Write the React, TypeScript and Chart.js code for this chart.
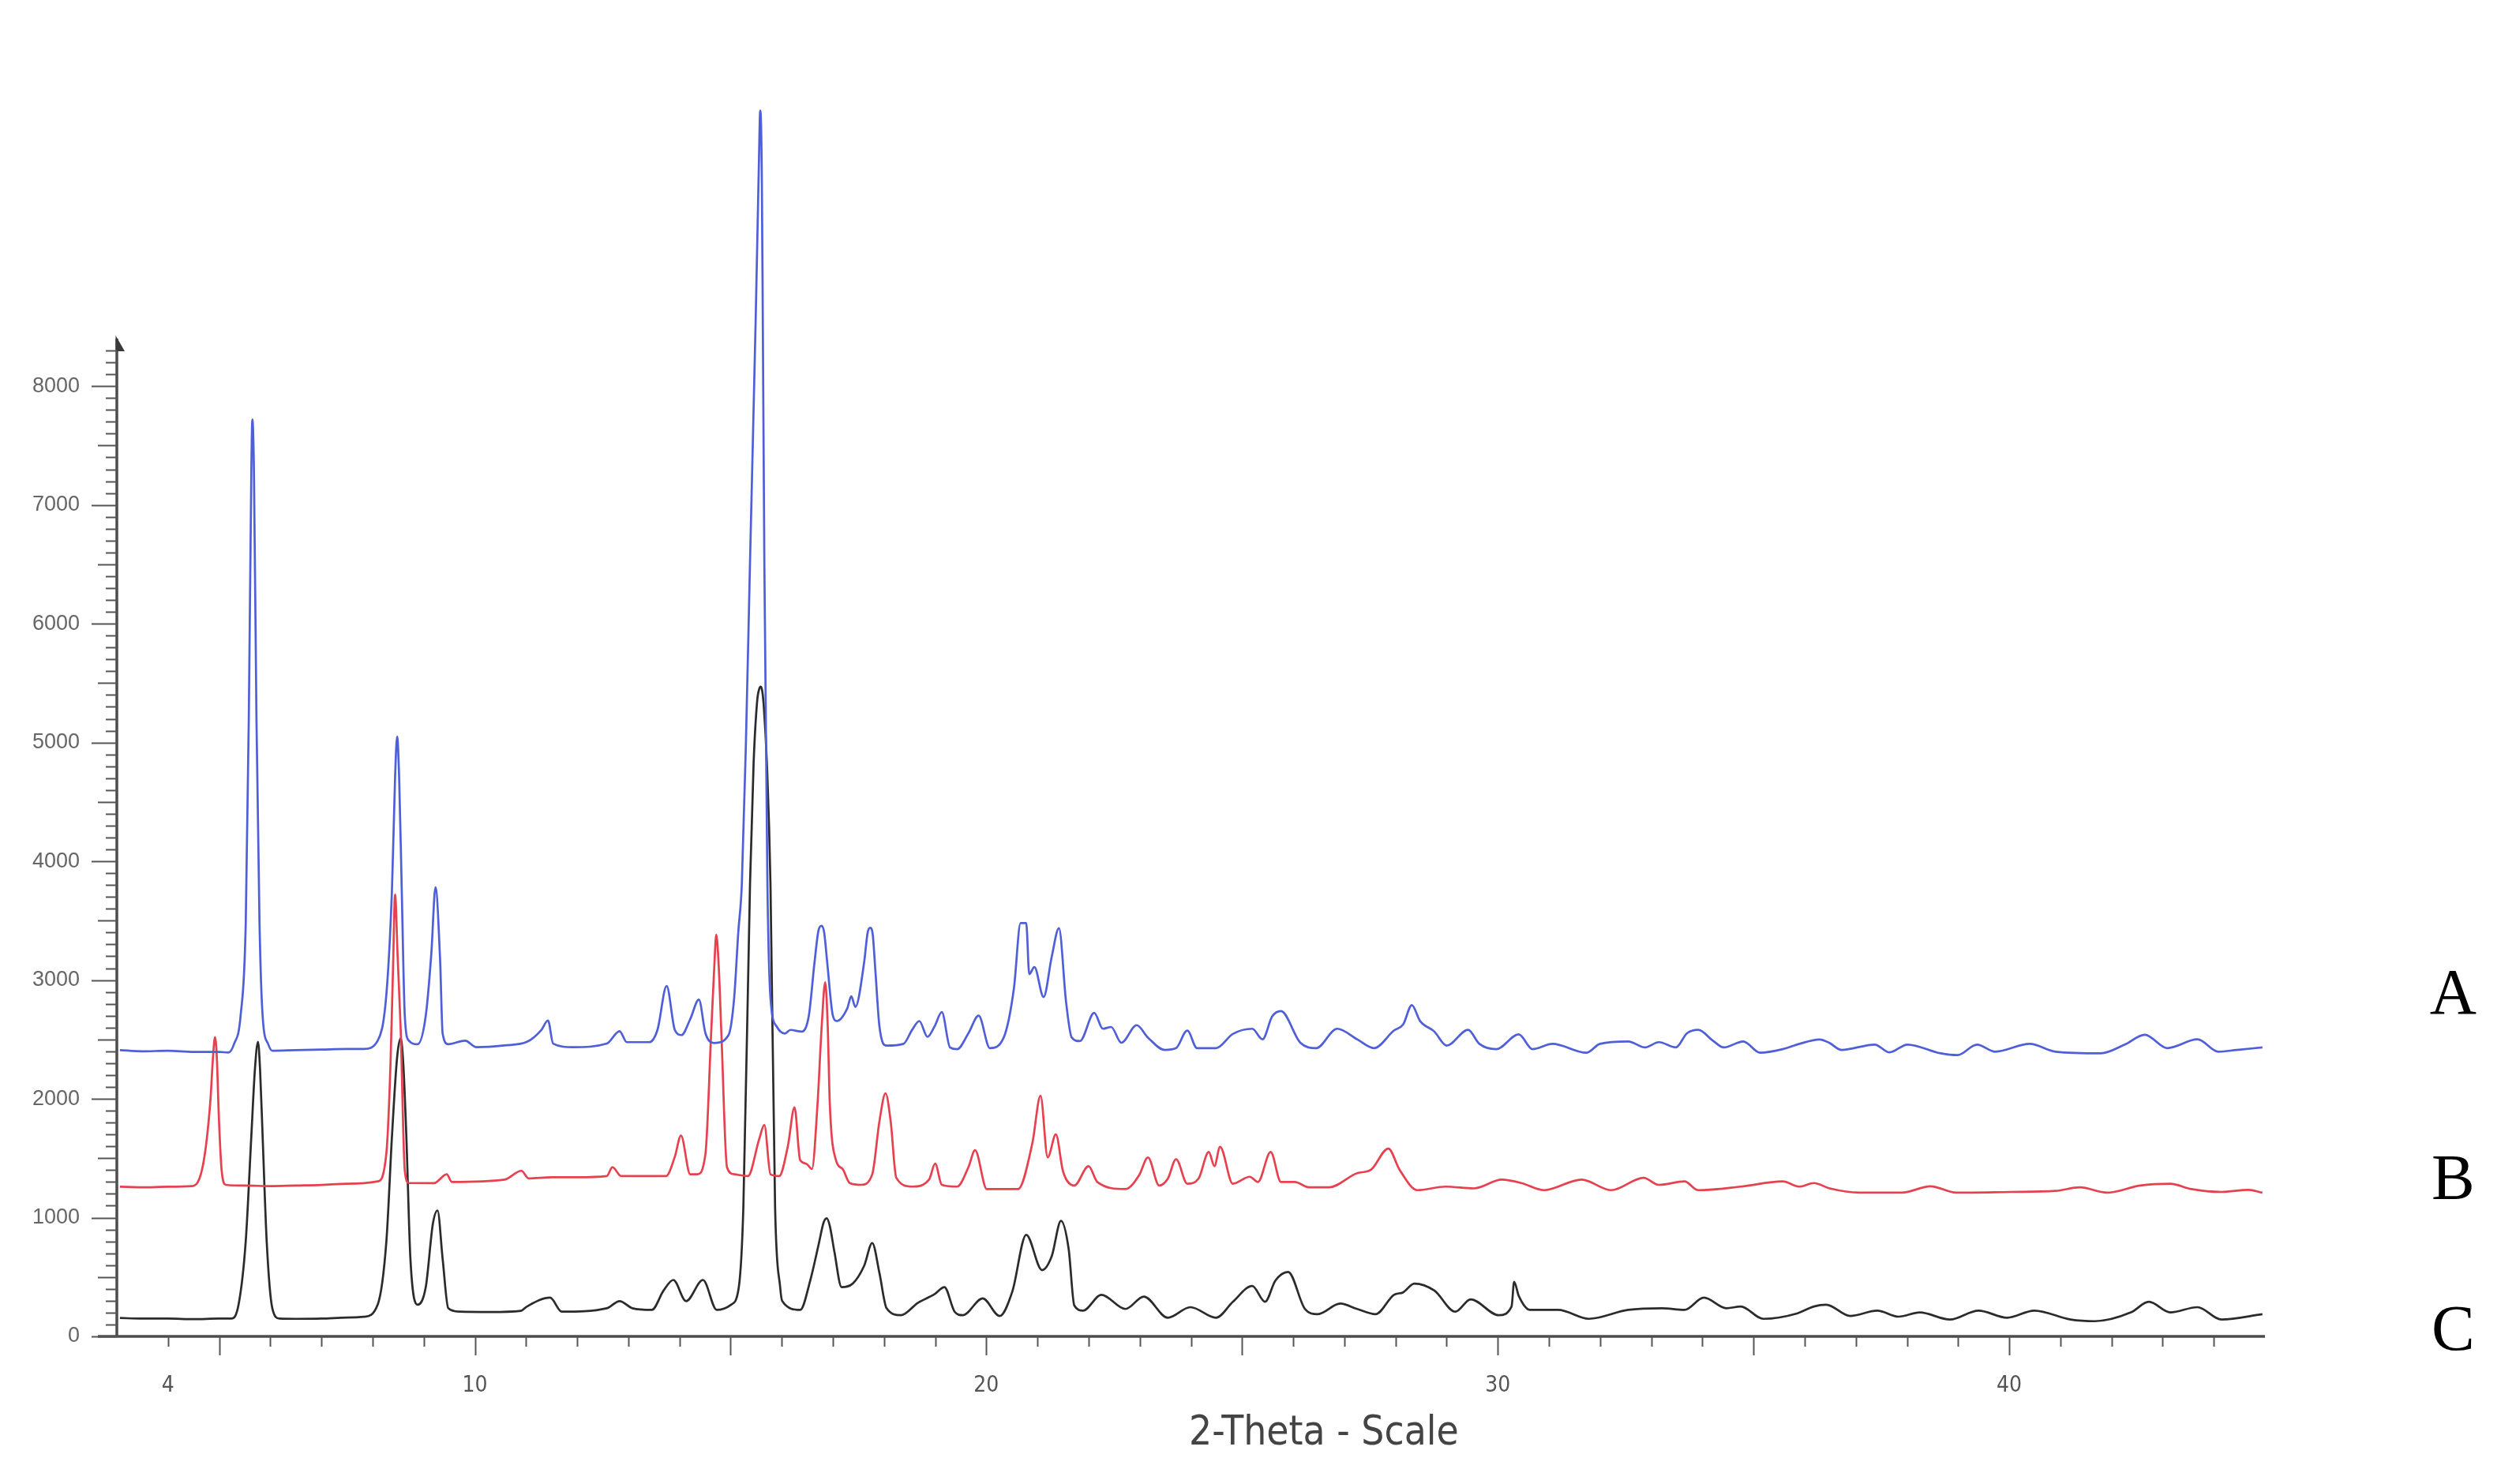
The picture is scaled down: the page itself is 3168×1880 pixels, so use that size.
import React, { useEffect, useRef } from 'react';
import { Chart, registerables } from 'chart.js';

Chart.register(...registerables);

// ---- axis settings ----
const X_MIN = 3;
const X_MAX = 45;
const Y_MIN = 0;
const Y_MAX = 10500;
const Y_AXIS_TOP = 8400;
const X_TICK_LABELS = [4, 10, 20, 30, 40];
const Y_TICK_LABELS = [0, 1000, 2000, 3000, 4000, 5000, 6000, 7000, 8000];
const X_AXIS_TITLE = '2-Theta - Scale';
const X_TITLE_AT = 26.6;

// ---- series labels ----
const TRACE_NAMES = ['A', 'B', 'C'];
const TRACE_NAME_VALUES = [2860, 1300, 30];
const TRACE_NAME_AT = 48.68;
const TRACE_COLORS = ['#4f5fd8', '#e5414f', '#2b2b2b'];

// ---- data: [2-theta, intensity] ----
const TRACE_A: [number, number][] = [
  [3.06, 2410], [3.5, 2400], [4.0, 2405], [4.5, 2395], [5.0, 2395], [5.18, 2390], [5.29, 2460], [5.42, 2700],
  [5.52, 3470], [5.58, 5200], [5.63, 7300], [5.65, 7720], [5.68, 7300], [5.73, 5200], [5.79, 3470], [5.85, 2700],
  [5.96, 2460], [6.04, 2405], [6.5, 2410], [7.0, 2415], [7.5, 2420], [7.83, 2420], [8.1, 2490], [8.27, 2880],
  [8.38, 3770], [8.44, 4700], [8.48, 5050], [8.52, 4700], [8.57, 3770], [8.63, 2700], [8.71, 2490], [8.88, 2460],
  [9.04, 2700], [9.15, 3230], [9.23, 3780], [9.32, 3175], [9.37, 2550], [9.48, 2460], [9.81, 2490], [10.03, 2435],
  [10.58, 2450], [11.02, 2480], [11.3, 2580], [11.43, 2660], [11.53, 2465], [11.92, 2435], [12.58, 2465], [12.83, 2570],
  [12.97, 2477], [13.41, 2477], [13.57, 2580], [13.75, 2950], [13.91, 2580], [14.04, 2537], [14.21, 2670], [14.38, 2835],
  [14.51, 2550], [14.68, 2470], [14.96, 2537], [15.07, 2850], [15.15, 3400], [15.22, 3810], [15.3, 5000], [15.38, 6520],
  [15.49, 8550], [15.55, 9800], [15.58, 10320], [15.61, 9800], [15.63, 8550], [15.66, 6520], [15.72, 3810], [15.78, 2850],
  [15.9, 2610], [16.06, 2550], [16.17, 2580], [16.39, 2566], [16.53, 2700], [16.64, 3145], [16.72, 3420], [16.78, 3457],
  [16.83, 3400], [16.89, 3145], [17.0, 2700], [17.08, 2655], [17.28, 2760], [17.36, 2863], [17.44, 2774], [17.61, 3145],
  [17.68, 3400], [17.73, 3440], [17.78, 3380], [17.83, 3086], [17.91, 2611], [18.05, 2448], [18.38, 2463], [18.55, 2581],
  [18.69, 2655], [18.85, 2522], [18.99, 2611], [19.13, 2730], [19.29, 2433], [19.43, 2418], [19.65, 2552], [19.85, 2700],
  [20.07, 2427], [20.34, 2516], [20.54, 2931], [20.67, 3480], [20.78, 3480], [20.84, 3050], [20.94, 3109], [21.12, 2857],
  [21.28, 3198], [21.42, 3436], [21.56, 2813], [21.67, 2516], [21.83, 2486], [22.11, 2724], [22.28, 2590], [22.44, 2605],
  [22.64, 2472], [22.94, 2620], [23.16, 2516], [23.49, 2412], [23.71, 2427], [23.93, 2575], [24.12, 2427], [24.49, 2427],
  [24.82, 2546], [25.2, 2590], [25.4, 2501], [25.59, 2694], [25.76, 2739], [26.14, 2472], [26.45, 2427], [26.86, 2590],
  [27.25, 2501], [27.58, 2427], [27.97, 2575], [28.15, 2626], [28.32, 2789], [28.48, 2656], [28.76, 2566], [29.0, 2448],
  [29.42, 2581], [29.64, 2463], [29.97, 2418], [30.41, 2543], [30.68, 2418], [31.07, 2463], [31.73, 2388], [32.0, 2463],
  [32.55, 2483], [32.88, 2433], [33.15, 2477], [33.48, 2433], [33.7, 2552], [33.92, 2581], [34.2, 2492], [34.42, 2433],
  [34.8, 2483], [35.13, 2388], [35.57, 2418], [35.9, 2463], [36.29, 2500], [36.48, 2472], [36.72, 2412], [37.37, 2457],
  [37.66, 2391], [38.01, 2457], [38.66, 2383], [38.99, 2368], [39.37, 2457], [39.73, 2397], [40.4, 2463], [40.91, 2397],
  [41.79, 2383], [42.26, 2457], [42.65, 2540], [43.09, 2427], [43.68, 2501], [44.09, 2397], [44.45, 2412], [44.95, 2433],
];

const TRACE_B: [number, number][] = [
  [3.06, 1260], [3.5, 1255], [4.0, 1260], [4.47, 1265], [4.69, 1455], [4.83, 1990], [4.88, 2350], [4.92, 2520],
  [4.96, 2300], [4.99, 1900], [5.05, 1395], [5.13, 1276], [5.5, 1270], [6.0, 1265], [6.5, 1270], [7.0, 1275],
  [7.5, 1285], [8.1, 1305], [8.27, 1543], [8.35, 2284], [8.4, 3100], [8.44, 3720], [8.49, 3200], [8.55, 2581],
  [8.63, 1395], [8.71, 1291], [9.2, 1290], [9.45, 1365], [9.55, 1300], [10.58, 1320], [10.91, 1394], [11.05, 1330],
  [11.51, 1340], [12.0, 1340], [12.58, 1350], [12.69, 1424], [12.86, 1350], [13.74, 1350], [13.91, 1513], [14.03, 1691],
  [14.21, 1365], [14.35, 1365], [14.51, 1543], [14.62, 2552], [14.68, 3100], [14.72, 3382], [14.77, 3100], [14.82, 2552],
  [14.93, 1424], [15.07, 1365], [15.34, 1350], [15.56, 1662], [15.66, 1780], [15.78, 1365], [15.95, 1350], [16.12, 1602],
  [16.25, 1929], [16.36, 1484], [16.48, 1454], [16.59, 1409], [16.7, 1958], [16.78, 2600], [16.85, 2982], [16.9, 2600],
  [16.94, 1958], [17.06, 1484], [17.19, 1409], [17.33, 1291], [17.55, 1276], [17.77, 1365], [17.91, 1810], [18.03, 2047],
  [18.13, 1810], [18.24, 1335], [18.55, 1261], [18.88, 1320], [19.0, 1454], [19.13, 1276], [19.43, 1261], [19.65, 1424],
  [19.78, 1567], [20.01, 1240], [20.62, 1240], [20.9, 1626], [21.06, 2026], [21.2, 1507], [21.36, 1700], [21.5, 1389],
  [21.72, 1270], [22.0, 1433], [22.17, 1300], [22.72, 1240], [22.99, 1359], [23.16, 1507], [23.38, 1270], [23.55, 1329],
  [23.71, 1492], [23.93, 1285], [24.15, 1329], [24.35, 1552], [24.46, 1433], [24.57, 1596], [24.82, 1285], [25.15, 1344],
  [25.31, 1300], [25.56, 1552], [25.76, 1300], [26.03, 1300], [26.31, 1255], [26.7, 1255], [27.25, 1374], [27.52, 1403],
  [27.86, 1581], [28.08, 1403], [28.43, 1231], [28.98, 1261], [29.53, 1246], [30.08, 1320], [30.46, 1291], [30.9, 1231],
  [31.64, 1320], [32.22, 1231], [32.85, 1335], [33.15, 1276], [33.65, 1305], [33.92, 1231], [34.75, 1261], [35.57, 1305],
  [35.9, 1261], [36.18, 1291], [36.49, 1246], [37.07, 1210], [37.9, 1210], [38.46, 1264], [38.96, 1210], [40.02, 1216],
  [40.91, 1225], [41.38, 1255], [41.91, 1210], [42.56, 1270], [43.15, 1285], [43.56, 1240], [44.15, 1216], [44.68, 1234],
  [44.95, 1210],
];

const TRACE_C: [number, number][] = [
  [3.06, 155], [3.5, 150], [4.0, 150], [4.5, 145], [5.0, 150], [5.24, 150], [5.38, 267], [5.52, 800],
  [5.63, 1690], [5.7, 2250], [5.76, 2480], [5.8, 2250], [5.85, 1690], [5.93, 800], [6.04, 237], [6.18, 150],
  [6.5, 148], [7.0, 150], [7.5, 158], [7.83, 165], [8.1, 267], [8.27, 800], [8.38, 1690], [8.48, 2350],
  [8.55, 2510], [8.6, 2300], [8.66, 1690], [8.74, 653], [8.88, 267], [9.04, 415], [9.18, 950], [9.27, 1060],
  [9.37, 653], [9.48, 237], [9.7, 208], [10.3, 205], [10.9, 215], [11.02, 252], [11.47, 326], [11.7, 208],
  [12.58, 237], [12.83, 297], [13.08, 237], [13.46, 223], [13.69, 386], [13.88, 475], [14.13, 297], [14.46, 475],
  [14.73, 223], [15.01, 267], [15.16, 412], [15.25, 1090], [15.38, 3807], [15.45, 4824], [15.52, 5350], [15.56, 5450],
  [15.59, 5470], [15.62, 5430], [15.65, 5300], [15.71, 4824], [15.78, 3807], [15.87, 1090], [15.97, 412], [16.01, 297],
  [16.36, 223], [16.56, 475], [16.72, 771], [16.82, 960], [16.88, 994], [16.94, 930], [17.03, 712], [17.17, 415],
  [17.39, 445], [17.61, 593], [17.77, 786], [17.91, 534], [18.05, 237], [18.33, 178], [18.66, 282], [18.99, 356],
  [19.18, 415], [19.38, 208], [19.54, 178], [19.93, 320], [20.26, 172], [20.51, 380], [20.78, 855], [21.09, 558],
  [21.28, 676], [21.46, 973], [21.61, 736], [21.72, 261], [21.89, 217], [22.25, 350], [22.72, 231], [23.08, 335],
  [23.55, 157], [23.99, 246], [24.49, 157], [24.82, 291], [25.2, 424], [25.45, 291], [25.65, 469], [25.9, 543],
  [26.23, 231], [26.48, 187], [26.92, 276], [27.25, 231], [27.61, 187], [27.97, 350], [28.15, 371], [28.37, 445],
  [28.76, 386], [29.17, 208], [29.47, 312], [30.02, 178], [30.27, 252], [30.32, 460], [30.41, 341], [30.63, 223],
  [31.18, 223], [31.78, 148], [32.55, 223], [33.21, 237], [33.65, 223], [34.03, 326], [34.47, 237], [34.75, 252],
  [35.19, 148], [35.85, 193], [36.18, 252], [36.42, 267], [36.89, 172], [37.42, 217], [37.84, 166], [38.25, 202],
  [38.84, 142], [39.4, 217], [39.96, 157], [40.49, 217], [41.2, 142], [41.67, 128], [42.38, 202], [42.73, 291],
  [43.15, 202], [43.68, 246], [44.15, 142], [44.95, 187],
];

const TRACES = [TRACE_A, TRACE_B, TRACE_C];

const NARROW = "'Liberation Sans Narrow', 'DejaVu Sans Condensed', 'Liberation Sans', sans-serif";

const axesPlugin = {
  id: 'xrdAxes',
  beforeDatasetsDraw(chart: any) {
    const { ctx } = chart;
    const xs = chart.scales.x;
    const ys = chart.scales.y;
    const x0 = xs.getPixelForValue(X_MIN);
    const xEnd = xs.getPixelForValue(X_MAX);
    const y0 = ys.getPixelForValue(0);
    const yTop = ys.getPixelForValue(Y_AXIS_TOP);
    ctx.save();
    ctx.strokeStyle = '#4c4c4c';
    ctx.lineWidth = 3.5;
    ctx.beginPath();
    ctx.moveTo(x0 - 24, y0);
    ctx.lineTo(xEnd, y0);
    ctx.stroke();
    ctx.beginPath();
    ctx.moveTo(x0, y0);
    ctx.lineTo(x0, yTop);
    ctx.stroke();
    ctx.fillStyle = '#3a3a3a';
    ctx.beginPath();
    ctx.moveTo(x0 - 1.5, yTop - 4);
    ctx.lineTo(x0 + 10, yTop + 16);
    ctx.lineTo(x0 - 1.5, yTop + 16);
    ctx.closePath();
    ctx.fill();
    ctx.strokeStyle = '#555';
    ctx.lineWidth = 2;
    for (let k = 0; k <= 83; k++) {
      const v = k * 100;
      const len = k % 10 === 0 ? 32 : k % 5 === 0 ? 24 : 14;
      const py = Math.round(ys.getPixelForValue(v)) + 0.5;
      ctx.beginPath();
      ctx.moveTo(x0 - len, py);
      ctx.lineTo(x0, py);
      ctx.stroke();
    }
    for (let t = 4; t <= 44; t++) {
      const len = t % 5 === 0 ? 24 : 13;
      const px = Math.round(xs.getPixelForValue(t)) + 0.5;
      ctx.beginPath();
      ctx.moveTo(px, y0);
      ctx.lineTo(px, y0 + len);
      ctx.stroke();
    }
    ctx.restore();
  },
  afterDraw(chart: any) {
    const { ctx } = chart;
    const xs = chart.scales.x;
    const ys = chart.scales.y;
    ctx.save();
    ctx.fillStyle = '#444';
    ctx.font = `51px ${NARROW}`;
    ctx.textAlign = 'center';
    ctx.textBaseline = 'middle';
    ctx.fillText(X_AXIS_TITLE, xs.getPixelForValue(X_TITLE_AT), ys.getPixelForValue(0) + 124);
    ctx.fillStyle = '#000';
    ctx.font = "82px 'Liberation Serif', 'DejaVu Serif', serif";
    TRACE_NAMES.forEach((n, i) => {
      ctx.fillText(n, xs.getPixelForValue(TRACE_NAME_AT), ys.getPixelForValue(TRACE_NAME_VALUES[i]));
    });
    ctx.restore();
  },
};

export default function App() {
  const canvasRef = useRef<HTMLCanvasElement | null>(null);

  useEffect(() => {
    const canvas = canvasRef.current;
    if (!canvas) return;
    const chart = new Chart(canvas, {
      type: 'line',
      data: {
        datasets: TRACES.map((tr, i) => ({
          label: TRACE_NAMES[i],
          data: tr.map(([x, y]) => ({ x, y })),
          borderColor: TRACE_COLORS[i],
          borderWidth: 2.7,
          pointRadius: 0,
          cubicInterpolationMode: 'monotone' as const,
          fill: false,
        })),
      },
      options: {
        animation: false,
        responsive: false,
        devicePixelRatio: 1,
        events: [],
        layout: { padding: { left: 0, right: 299, top: 113, bottom: 0 } },
        plugins: { legend: { display: false }, tooltip: { enabled: false }, title: { display: false } },
        scales: {
          x: {
            type: 'linear',
            min: X_MIN,
            max: X_MAX,
            grid: { display: false, drawTicks: false },
            border: { display: false },
            afterFit: (s: any) => { s.height = 187; },
            afterBuildTicks: (s: any) => { s.ticks = X_TICK_LABELS.map((v) => ({ value: v })); },
            ticks: {
              autoSkip: false,
              maxRotation: 0,
              padding: 46,
              color: '#555',
              font: { family: NARROW, size: 28 },
              callback: (v: any) => String(v),
            },
          },
          y: {
            type: 'linear',
            min: Y_MIN,
            max: Y_MAX,
            grid: { display: false, drawTicks: false },
            border: { display: false },
            afterFit: (s: any) => { s.width = 148; },
            afterBuildTicks: (s: any) => { s.ticks = Y_TICK_LABELS.map((v) => ({ value: v })); },
            ticks: {
              autoSkip: false,
              padding: 47,
              color: '#666',
              font: { family: "'Liberation Sans', Arial, sans-serif", size: 27 },
              callback: (v: any) => String(v),
            },
          },
        },
      },
      plugins: [axesPlugin],
    });
    return () => chart.destroy();
  }, []);

  return (
    <div style={{ position: 'fixed', left: 0, top: 0, width: 3168, height: 1880, background: '#fff' }}>
      <canvas ref={canvasRef} width={3168} height={1880} style={{ display: 'block' }} />
    </div>
  );
}
